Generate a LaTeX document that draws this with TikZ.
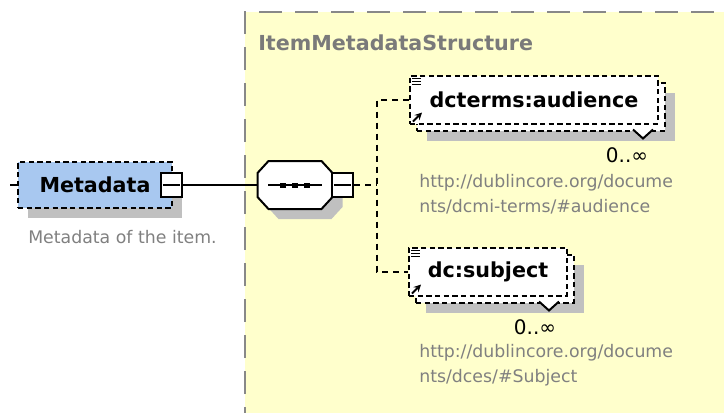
\documentclass[tikz,border=0pt]{standalone}
\usepackage{fontspec}
\setmainfont{DejaVu Sans}
\usepackage{xcolor}
\usepackage{tikz}
\usetikzlibrary{shadows, arrows, positioning}
\definecolor{metablue}{RGB}{168,200,240}
\definecolor{groupyellow}{RGB}{255,255,204}
\definecolor{shadowgray}{RGB}{192,192,192}
\definecolor{docgray}{RGB}{128,128,128}
\definecolor{bordergray}{RGB}{136,136,136}
\tikzstyle{boxshadow} = [drop shadow={shadow xshift=7.5pt, shadow yshift=-7.5pt, fill=shadowgray, opacity=1}]
\tikzstyle{element} = [rectangle, draw=black, fill=white, line width=1.5pt, dash pattern=on 4pt off 2.5pt, minimum height=36pt, inner sep=0pt, font=\fontsize{15.5}{18}\selectfont\bfseries]
\tikzstyle{metabox} = [element, fill=metablue, minimum width=115.5pt, minimum height=34.5pt]
\tikzstyle{minusbox} = [rectangle, draw=black, fill=white, line width=1.5pt, minimum width=16pt, minimum height=18pt, inner sep=0pt]
\tikzstyle{sequence} = [rectangle, minimum width=56pt, minimum height=36pt, inner sep=0pt]
\tikzstyle{doc} = [text=docgray, align=left, inner sep=0pt, font=\fontsize{13}{18.75}\selectfont]
\tikzstyle{multiplicity} = [inner sep=0pt, font=\fontsize{15}{18}\selectfont]
\tikzstyle{conn} = [line width=1.5pt]
\tikzstyle{dashconn} = [line width=1.5pt, dash pattern=on 4.5pt off 3.75pt]
\tikzstyle{arrow} = [line width=1.4pt,->,>=stealth]

\begin{document}
\begin{tikzpicture}[x=0.75pt, y=-0.75pt]
\useasboundingbox (0,0) rectangle (724,412);
\clip (0,0) rectangle (724,412);

% group area
\fill [groupyellow] (245,12) rectangle (740,430);
\draw [bordergray, line width=1.5pt, dash pattern=on 17pt off 10pt] (245,430) -- (245,12) -- (740,12);
\node (group) [anchor=west, inner sep=0pt, text=docgray!95!black, font=\fontsize{15.5}{18}\selectfont\bfseries] at (258,43) {ItemMetadataStructure};

% root element
\coordinate (metain) at (10,185);
\node (meta) [metabox, boxshadow] at (95,185) {Metadata};
\node (metaminus) [minusbox] at (171.5,185) {};
\node (metadoc) [doc, anchor=west] at (28,237) {Metadata of the item.};

% sequence compositor
\node (seq) [sequence] at (295,185) {};
\begin{scope}[shift={(seq.center)}]
  \fill [shadowgray] (-16.5,-14) -- (36.5,-14) -- (47.5,-2) -- (47.5,22) -- (36.5,34) -- (-16.5,34) -- (-27.5,22) -- (-27.5,-2) -- cycle;
  \draw [fill=white, line width=1.5pt] (-26.5,-24) -- (26.5,-24) -- (37.5,-12) -- (37.5,12) -- (26.5,24) -- (-26.5,24) -- (-37.5,12) -- (-37.5,-12) -- cycle;
\end{scope}
\node (seqminus) [minusbox] at (342.5,185) {};
\coordinate (branch) at (377,185);

% child elements
\node (audback) [element, boxshadow, minimum width=186pt] at (541,106.5) {};
\node (audience) [element, minimum width=186pt] at ([shift={(-7,-7)}]audback) {dcterms:audience};
\node (audmult) [multiplicity] at (627,155) {0..∞};
\node (auddoc) [doc, anchor=west] at (419,194.5) {http://dublincore.org/docume\\nts/dcmi-terms/\#audience};

\node (subback) [element, boxshadow, minimum width=118.5pt] at (495,278.5) {};
\node (subject) [element, minimum width=118.5pt] at ([shift={(-7,-7)}]subback) {dc:subject};
\node (submult) [multiplicity] at (535,327) {0..∞};
\node (subdoc) [doc, anchor=west] at (419,365) {http://dublincore.org/docume\\nts/dces/\#Subject};

% connectors
\draw [conn] (metain) -- (meta);
\draw [conn] (metaminus) -- (seq);
\draw [dashconn] (seqminus) -- (branch);
\draw [dashconn] (audience.west) -| (branch) |- (subject.west);

% minus signs and sequence dots
\foreach \n in {metaminus, seqminus}
  \draw [line width=1.5pt] ([xshift=2.25pt]\n.west) -- ([xshift=-2.25pt]\n.east);
\draw [line width=1.5pt] ([xshift=-20pt]seq.center) -- ([xshift=20pt]seq.center);
\foreach \d in {-12,0,12}
  \fill ([xshift=\d*0.75pt]seq.center) +(-3,-2.5) rectangle +(3,2.5);

% element icons and multiplicity notches
\foreach \n in {audience, subject} {
  \foreach \k in {4,7,10}
    \draw [line width=0.9pt] ([shift={(3,\k)}]\n.north west) -- ++(9,0);
  \draw [arrow] ([shift={(4,-3)}]\n.south west) -- ++(9,-9);
}
\draw [line width=1.5pt, fill=white] ([shift={(-33,-2)}]audback.south east) -- ++(10,9) -- ++(10,-9);
\draw [line width=1.5pt, fill=white] ([shift={(-36,-2)}]subback.south east) -- ++(10,9) -- ++(10,-9);

\end{tikzpicture}
\end{document}
